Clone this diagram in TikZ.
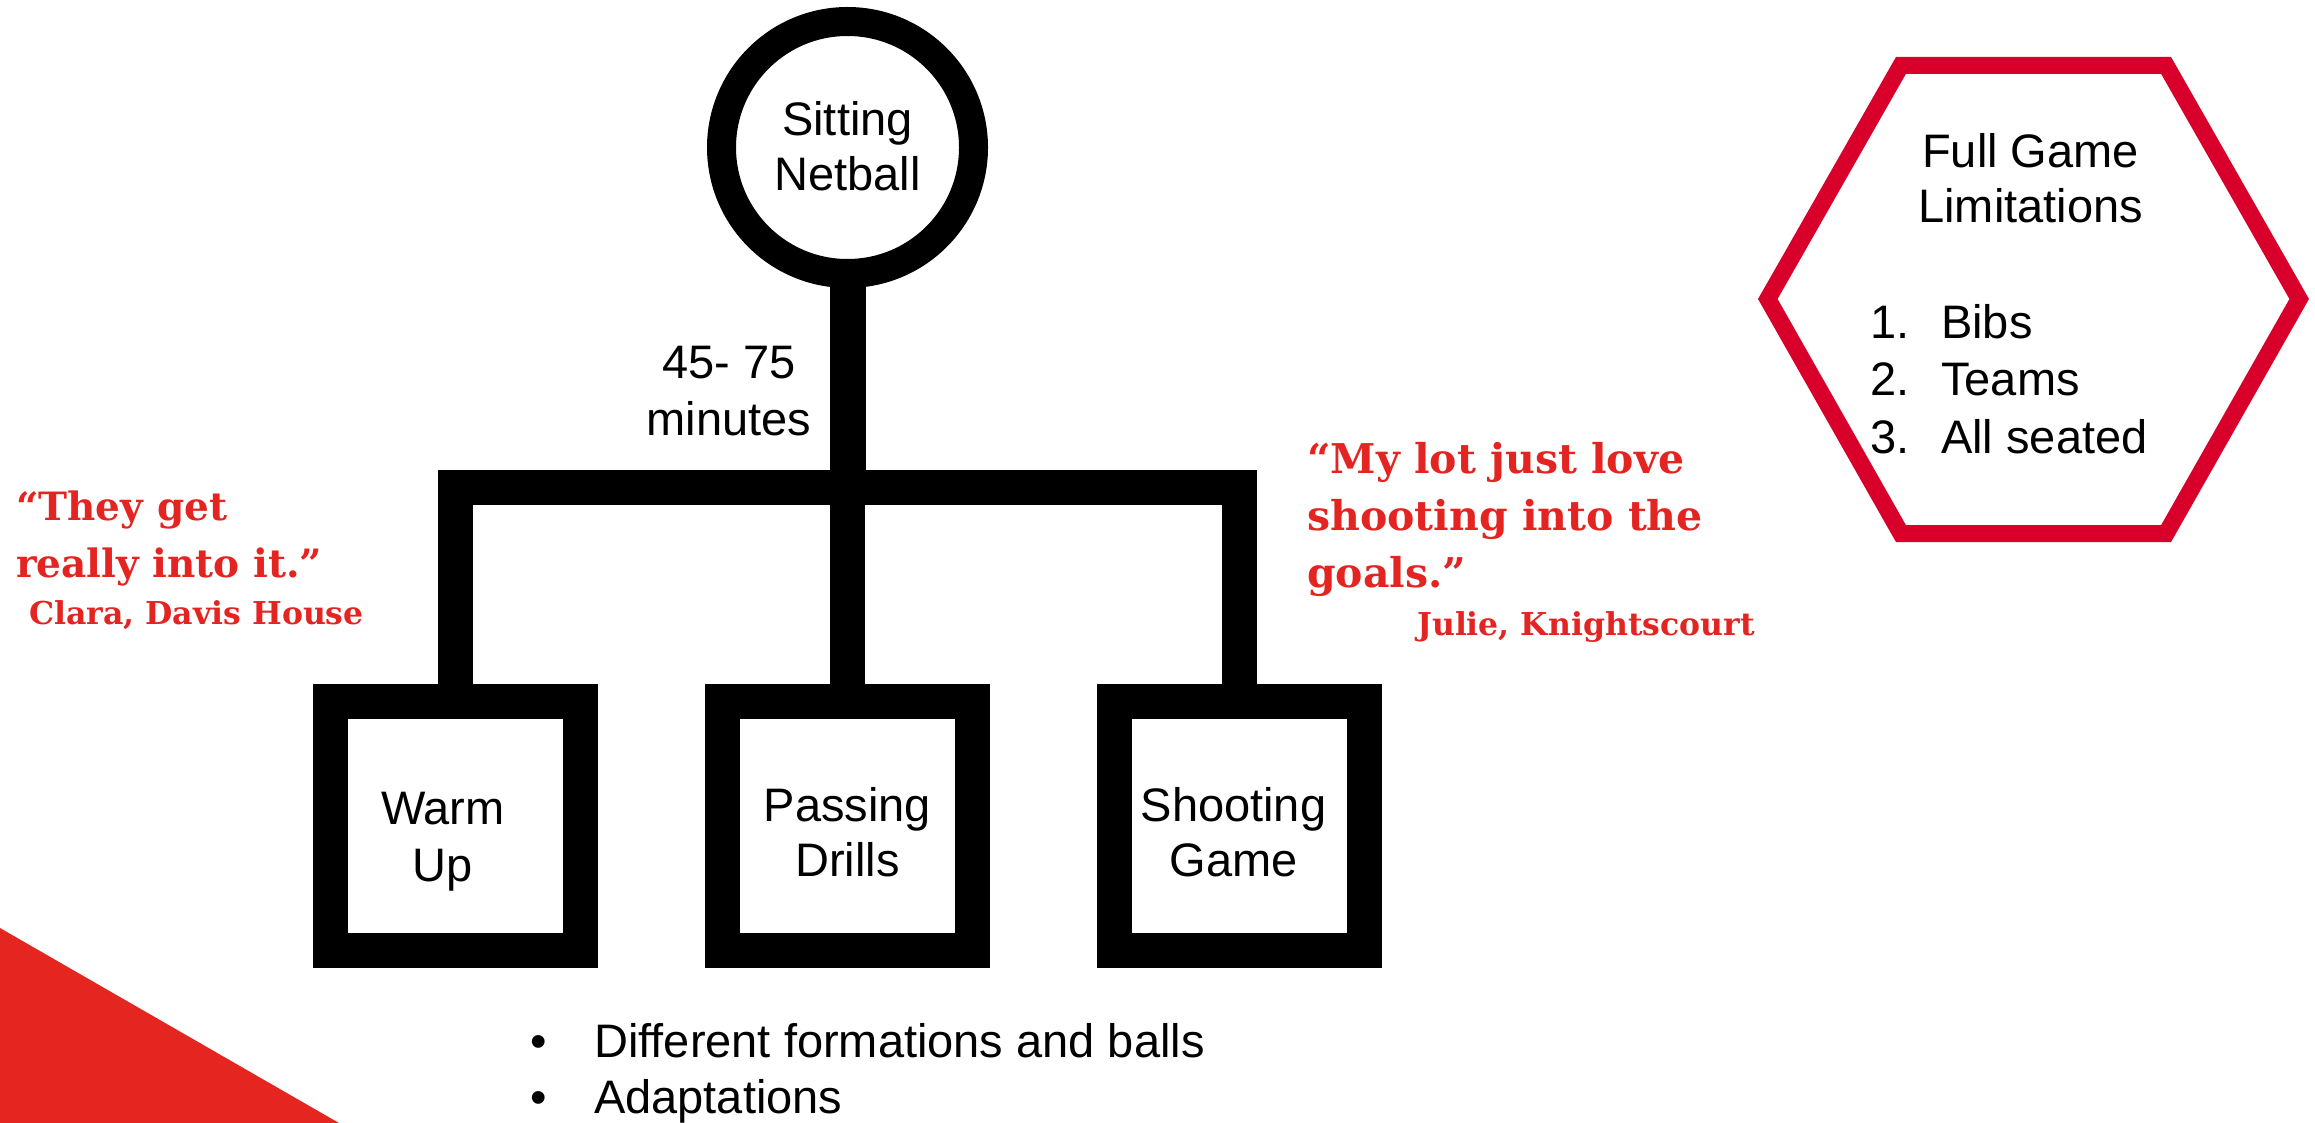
\documentclass[tikz,border=0pt]{standalone}
\usepackage{fontspec}
\setmainfont{Liberation Sans}
\newfontfamily\qfont{DejaVu Serif}
\definecolor{qred}{RGB}{227,36,33}
\definecolor{hexred}{RGB}{216,0,42}
\definecolor{trired}{RGB}{228,37,32}
\newcommand{\mlines}[2][c]{\begin{tabular}[t]{@{}#1@{}}#2\end{tabular}}
\begin{document}
\begin{tikzpicture}[x=1pt,y=-1pt,
  ring/.style={circle, draw=black, line width=29pt, minimum size=252pt, inner sep=0pt, outer sep=0pt},
  stepbox/.style={rectangle, draw=black, line width=35pt, minimum width=250pt, minimum height=249pt, inner sep=0pt, outer sep=0pt},
  conn/.style={draw=black, line width=35pt, line join=miter},
  btext/.style={font=\fontsize{47}{57}\selectfont, inner sep=0pt, anchor=base},
  qtext/.style={font=\qfont\bfseries\fontsize{39}{57}\selectfont, text=qred, inner sep=0pt, anchor=base west},
  atext/.style={font=\qfont\bfseries\fontsize{31.5}{35}\selectfont, text=qred, inner sep=0pt, anchor=base west},
]
\useasboundingbox (0,0) rectangle (2315,1123);
\fill[white] (0,0) rectangle (2315,1123);

% corner triangle
\fill[trired] (0,928) -- (339,1123) -- (0,1123) -- cycle;

% tree
\node[ring] (root) at (847.5,147.5) {};
\node[btext, font=\fontsize{47}{55}\selectfont] (roottext) at (847.5,136) {\mlines{Sitting\\Netball}};
\node[stepbox] (warm) at (455.5,826) {};
\node[stepbox] (pass) at (847.5,826) {};
\node[stepbox] (shoot) at (1239.5,826) {};
\coordinate (junc) at (847.5,487.5);
\draw[conn, line width=36pt] (root.south) -- (junc);
\draw[conn] (warm.north) -- (warm.north |- junc) -- (shoot.north |- junc) -- (shoot.north);
\draw[conn] (junc) -- (pass.north);

\node[btext] (warmtext) at (443,824) {\mlines{Warm\\Up}};
\node[btext, font=\fontsize{47}{55}\selectfont] (passtext) at (847.5,821) {\mlines{Passing\\Drills}};
\node[btext, font=\fontsize{47}{55}\selectfont] (shoottext) at (1233.5,821) {\mlines{Shooting\\Game}};
\node[btext] (dur) at (729,378) {\mlines{45- 75\\minutes}};

% hexagon
\draw[hexred, line width=17pt, line join=miter] (1900.9,65.5) -- (2166.1,65.5) -- (2299.2,299) -- (2166.1,533.5) -- (1900.9,533.5) -- (1767.8,299) -- cycle;
\node[btext, font=\fontsize{47}{55}\selectfont] (hextitle) at (2030.6,168) {\mlines{Full Game\\Limitations}};
\node[btext, anchor=base west, font=\fontsize{47}{57.5}\selectfont] (hexlist) at (1870,338) {\mlines[l]{\makebox[71pt][l]{1.}Bibs\\ \makebox[71pt][l]{2.}Teams\\ \makebox[71pt][l]{3.}All seated}};

% quotes
\node[qtext] (clara) at (16,520) {\mlines[l]{“They get\\really into it.”}};
\node[atext] (claraname) at (29,624) {Clara, Davis House};
\node[qtext, font=\qfont\bfseries\fontsize{41}{57}\selectfont] (julie) at (1307,473) {\mlines[l]{“My lot just love\\shooting into the\\goals.”}};
\node[atext] (juliename) at (1417,635) {Julie, Knightscourt};

% bullets
\node[btext, anchor=base west, font=\fontsize{47}{56}\selectfont] (bullets) at (530,1057) {\mlines[l]{\makebox[64pt][l]{•}Different formations and balls\\ \makebox[64pt][l]{•}Adaptations}};
\end{tikzpicture}
\end{document}
